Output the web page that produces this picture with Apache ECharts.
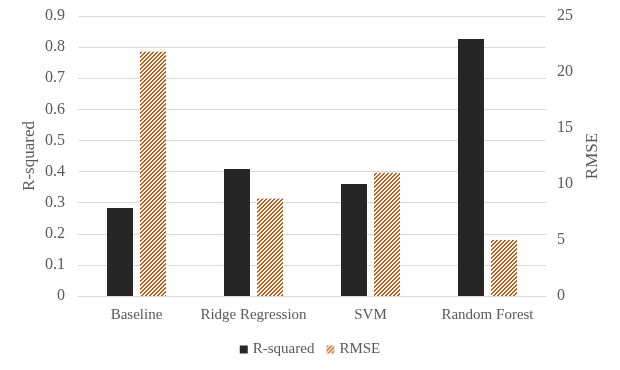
<!DOCTYPE html>
<html>
<head>
<meta charset="utf-8">
<script src="https://cdn.jsdelivr.net/npm/echarts@6/dist/echarts.min.js"></script>
<style>
  html, body { margin: 0; padding: 0; background: #fff; }
  #chart { width: 620px; height: 370px; }
</style>
</head>
<body>
<div id="chart"></div>
<script>
const categories = ['Baseline', 'Ridge Regression', 'SVM', 'Random Forest'];
const rSquared = [0.283, 0.408, 0.36, 0.826];
const rmse = [21.8, 8.7, 11.0, 5.0];

// diagonal hatch for the RMSE bars
function hatch() {
    const c = document.createElement('canvas');
    c.width = 8;
    c.height = 8;
    const ctx = c.getContext('2d');
    ctx.fillStyle = '#ffffff';
    ctx.fillRect(0, 0, 8, 8);
    ctx.fillStyle = '#c55a11';
    for (let x = 0; x < 8; x++) {
        for (let y = 0; y < 8; y++) {
            if ((x + y) % 4 < 2) ctx.fillRect(x, y, 1, 1);
        }
    }
    return c;
}

const font = 'Liberation Serif, Times New Roman, serif';
const grey = '#595959';

const chart = echarts.init(document.getElementById('chart'), null, { renderer: 'canvas' });
chart.setOption({
    animation: false,
    textStyle: { fontFamily: font },
    grid: { left: 78, right: 74, top: 16, bottom: 74 },
    legend: {
        bottom: 8,
        left: 'center',
        itemWidth: 8,
        itemHeight: 8,
        itemGap: 12,
        textStyle: { color: grey, fontSize: 15, fontFamily: font },
        data: [
            { name: 'R-squared', icon: 'rect' },
            { name: 'RMSE', icon: 'rect' }
        ]
    },
    xAxis: {
        type: 'category',
        data: categories,
        axisTick: { show: false },
        axisLine: { lineStyle: { color: '#d9d9d9' } },
        axisLabel: { color: grey, fontSize: 15, margin: 12, interval: 0, fontFamily: font }
    },
    yAxis: [
        {
            type: 'value',
            name: 'R-squared',
            nameLocation: 'middle',
            nameRotate: 90,
            nameGap: 40,
            nameMoveOverlap: false,
            nameTextStyle: { color: grey, fontSize: 17, fontFamily: font },
            min: 0,
            max: 0.9,
            interval: 0.1,
            axisLine: { show: false },
            axisTick: { show: false },
            splitLine: { lineStyle: { color: '#d9d9d9' } },
            axisLabel: {
                color: grey, fontSize: 16, margin: 13, fontFamily: font,
                formatter: v => String(Math.round(v * 10) / 10)
            }
        },
        {
            type: 'value',
            name: 'RMSE',
            nameLocation: 'middle',
            nameRotate: 90,
            nameGap: 38,
            nameMoveOverlap: false,
            nameTextStyle: { color: grey, fontSize: 17, fontFamily: font },
            min: 0,
            max: 25,
            interval: 5,
            axisLine: { show: false },
            axisTick: { show: false },
            splitLine: { show: false },
            axisLabel: { color: grey, fontSize: 16, margin: 11, fontFamily: font }
        }
    ],
    series: [
        {
            name: 'R-squared',
            type: 'bar',
            yAxisIndex: 0,
            data: rSquared,
            barWidth: 26,
            barGap: '27%',
            itemStyle: { color: '#262626' }
        },
        {
            name: 'RMSE',
            type: 'bar',
            yAxisIndex: 1,
            data: rmse,
            barWidth: 26,
            itemStyle: { color: { image: hatch(), repeat: 'repeat' } }
        }
    ]
});
</script>
</body>
</html>
